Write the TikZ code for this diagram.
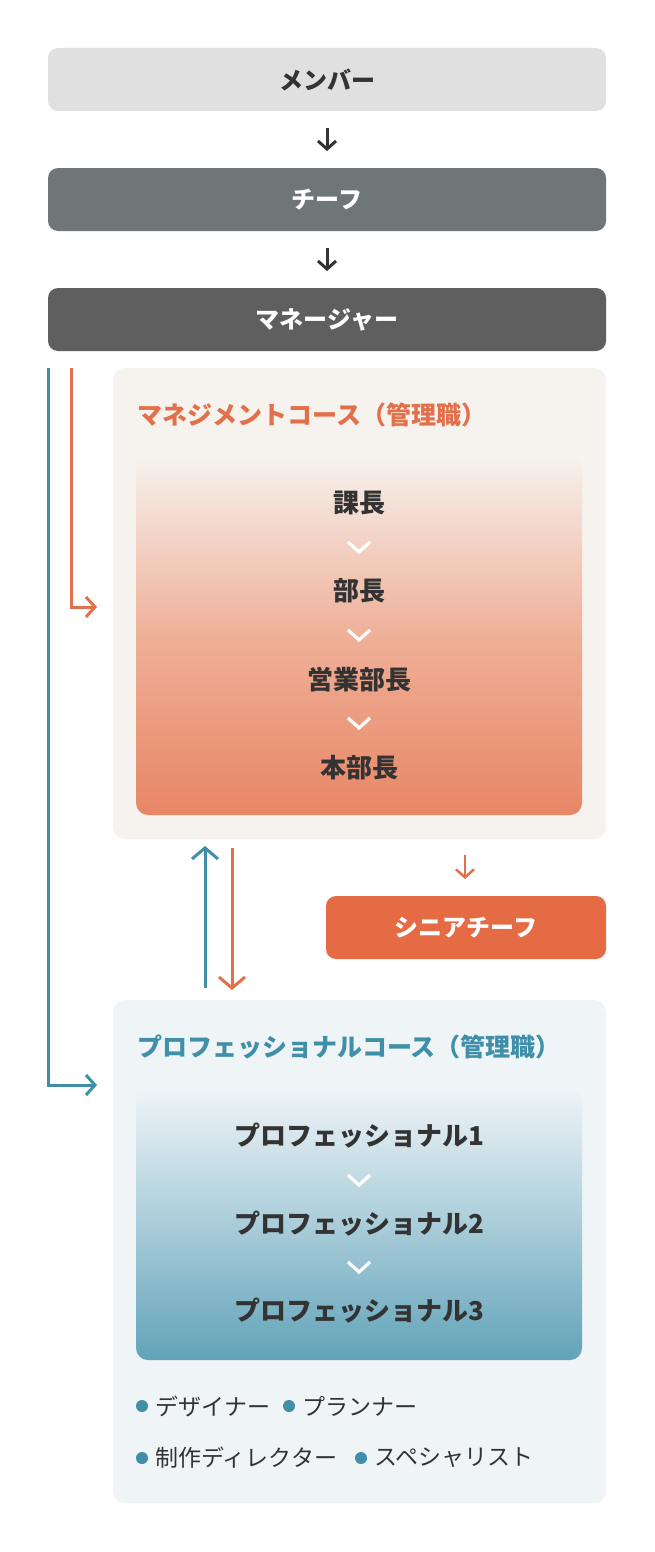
\documentclass[tikz,border=0pt]{standalone}
\usepackage{fontspec}
\setmainfont{Noto Sans CJK JP}
\usetikzlibrary{arrows.meta}
\definecolor{cdark}{HTML}{333333}
\definecolor{corg}{HTML}{E2704B}
\definecolor{cblue}{HTML}{3F8FA9}
\definecolor{cpanelO}{HTML}{F6F2EE}
\definecolor{cpanelB}{HTML}{EFF4F7}
\tikzset{
 x=1pt,y=-1pt,
 bar/.style={rounded corners=10pt,minimum width=558pt,minimum height=63pt,inner sep=0pt,font=\bfseries\fontsize{24}{28}\selectfont},
 lvl/.style={font=\bfseries\fontsize{26}{30}\selectfont,text=cdark},
 ttl/.style={font=\bfseries\fontsize{25}{29}\selectfont,anchor=west},
 blt/.style={font=\fontsize{23}{27}\selectfont,text=cdark,anchor=west},
 arr/.style={line width=3pt,-{Straight Barb[length=8pt,width=18pt]}},
 chev/.style={white,line width=3.2pt},
 dot/.style={circle,inner sep=0pt,minimum size=12pt,fill=cblue}
}
\begin{document}
\begin{tikzpicture}
\useasboundingbox[fill=white] (0,0) rectangle (654,1552);
\node[bar,fill={rgb,255:red,224;green,224;blue,224},text=cdark] (m) at (327,79.5) {メンバー};
\node[bar,fill={rgb,255:red,110;green,118;blue,119},text=white] (c) at (327,199.5) {チーフ};
\node[bar,fill={rgb,255:red,95;green,95;blue,95},text=white] (mg) at (327,319.5) {マネージャー};
\coordinate (a1) at (327,128); \coordinate (a2) at (327,151);
\draw[arr,cdark] (a1)--(a2);
\coordinate (a3) at (327,248); \coordinate (a4) at (327,271);
\draw[arr,cdark] (a3)--(a4);
% management panel
\fill[cpanelO,rounded corners=12pt] (113,368) rectangle (606,839);
\node[ttl,text=corg] (mt) at (134,415) {マネジメントコース（管理職）};
\shade[rounded corners=12pt,top color=cpanelO,bottom color={rgb,255:red,232;green,134;blue,102},middle color={rgb,255:red,239;green,176;blue,152}] (136,455) rectangle (582,815);
\node[lvl] (k1) at (359,503) {課長};
\node[lvl] (k2) at (359,591) {部長};
\node[lvl] (k3) at (359,680) {営業部長};
\node[lvl] (k4) at (359,768) {本部長};
\foreach \y in {547,635,723}{\draw[chev] (348,\y-5)--(359,\y+5)--(370,\y-5);}
% side arrows
\coordinate (o1) at (71,368); \coordinate (o2) at (71,607); \coordinate (o3) at (97,607);
\draw[corg,line width=3pt,-{Straight Barb[length=9pt,width=20pt]}] (o1)--(o2)--(o3);
\coordinate (b1) at (48,368); \coordinate (b2) at (48,1085); \coordinate (b3) at (97,1085);
\draw[cblue,line width=3pt,-{Straight Barb[length=9pt,width=20pt]}] (b1)--(b2)--(b3);
\coordinate (u1) at (205,988); \coordinate (u2) at (205,846);
\draw[cblue,line width=3pt,-{Straight Barb[length=11pt,width=26pt]}] (u1)--(u2);
\coordinate (d1) at (232,848); \coordinate (d2) at (232,990);
\draw[corg,line width=3pt,-{Straight Barb[length=11pt,width=26pt]}] (d1)--(d2);
\coordinate (s1) at (465,855); \coordinate (s2) at (465,879);
\draw[corg,line width=2.5pt,-{Straight Barb[length=8pt,width=18pt]}] (s1)--(s2);
\node[bar,minimum width=280pt,fill={rgb,255:red,229;green,107;blue,69},text=white] (sc) at (466,927.5) {シニアチーフ};
% professional panel
\fill[cpanelB,rounded corners=12pt] (113,1000) rectangle (606,1503);
\node[ttl,text=cblue] (pt) at (134,1047) {プロフェッショナルコース（管理職）};
\shade[rounded corners=12pt,top color=cpanelB,bottom color={rgb,255:red,98;green,163;blue,185},middle color={rgb,255:red,170;green,205;blue,217}] (136,1088) rectangle (582,1360);
\node[lvl] (p1) at (359,1136) {プロフェッショナル1};
\node[lvl] (p2) at (359,1224) {プロフェッショナル2};
\node[lvl] (p3) at (359,1311) {プロフェッショナル3};
\foreach \y in {1180,1267}{\draw[chev] (348,\y-5)--(359,\y+5)--(370,\y-5);}
\node[dot] (d1a) at (142,1406) {}; \node[blt] (t1a) at (152,1406) {デザイナー};
\node[dot] (d1b) at (289,1406) {}; \node[blt] (t1b) at (299,1406) {プランナー};
\node[dot] (d2a) at (142,1458) {}; \node[blt] (t2a) at (152,1458) {制作ディレクター};
\node[dot] (d2b) at (361,1458) {}; \node[blt] (t2b) at (371,1458) {スペシャリスト};
\end{tikzpicture}
\end{document}
